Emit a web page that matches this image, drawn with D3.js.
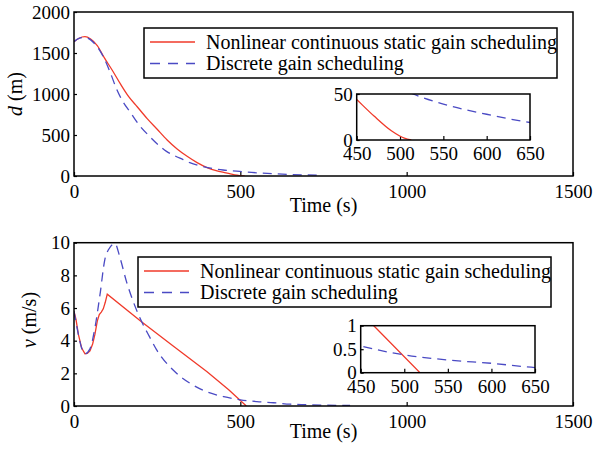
<!DOCTYPE html>
<html>
<head>
<meta charset="utf-8">
<script src="https://cdn.jsdelivr.net/npm/d3@7"></script>
<style>
  body { margin: 0; background: #fff; }
  svg { display: block; font-family: "Liberation Serif", "Times New Roman", serif; }
  .tick line { stroke: #000; stroke-width: 1.2; }
  .tick text { fill: #000; }
</style>
</head>
<body>
<div class="grafico"></div>
<script>
/* Datos */
const legendLabels = ['Nonlinear continuous static gain scheduling', 'Discrete gain scheduling']

// distance d (m)
const topRedT = [0, 15, 33, 50, 70, 90, 115, 140, 165, 190, 220, 250, 280, 310, 340, 370, 400, 430, 450, 470, 490, 505, 513]
const topRedD = [1638, 1680, 1699, 1670, 1590, 1450, 1290, 1120, 965, 845, 700, 570, 440, 330, 240, 163, 102, 62, 44, 26, 10, 2, 0]
const topBlueT = [0, 15, 33, 50, 68, 88, 108, 128, 148, 168, 198, 228, 248, 278, 298, 328, 348, 378, 398, 448, 498, 515, 550, 600, 650, 700, 730]
const topBlueD = [1638, 1678, 1690, 1660, 1585, 1455, 1272, 1060, 900, 784, 610, 480, 400, 300, 256, 200, 163, 125, 106, 73, 57, 50, 39, 28, 19, 13, 10]

// speed v (m/s)
const botRedT = [0, 6, 13, 23, 33, 40, 48, 56, 63, 70, 76, 82, 88, 94, 100, 200, 300, 400, 465, 518]
const botRedV = [5.8, 5.3, 4.4, 3.55, 3.2, 3.22, 3.37, 3.8, 4.4, 5.2, 5.6, 5.75, 5.95, 6.35, 6.85, 5.2, 3.64, 2.1, 1.0, 0]
const botBlueT = [0, 13, 23, 33, 48, 63, 78, 93, 103, 123, 138, 158, 178, 198, 228, 248, 298, 348, 398, 450, 500, 550, 600, 650, 700, 760, 830]
const botBlueV = [5.8, 4.4, 3.55, 3.2, 3.5, 4.8, 6.8, 9.0, 9.55, 9.95, 9.1, 7.6, 6.4, 5.4, 4.2, 3.45, 2.2, 1.4, 0.88, 0.57, 0.38, 0.27, 0.2, 0.11, 0.08, 0.05, 0.03]

// ticks
const mainXTicks = [0, 500, 1000, 1500]
const topYTicks = [0, 500, 1000, 1500, 2000]
const botYTicks = [0, 2, 4, 6, 8, 10]
const insetXTicks = [450, 500, 550, 600, 650]
const topInsetYTicks = [0, 50]
const botInsetYTicks = [0, 0.5, 1]

const w = 597
const h = 450
const red = '#f03a2a'
const blue = '#4a4ac4'
const serif = '"Liberation Serif", "Times New Roman", serif'

const svg = d3.select('.grafico')
  .append('svg')
  .attr('width', w)
  .attr('height', h)
  .attr('font-family', serif)

/* Dibuja un marco de ejes con sus curvas */
const panel = (opt) => {
  const xScale = d3.scaleLinear().domain(opt.xDomain).range([opt.x0, opt.x1])
  const yScale = d3.scaleLinear().domain(opt.yDomain).range([opt.y1, opt.y0])
  const g = svg.append('g').attr('class', opt.id)

  const clipId = 'clip-' + opt.id
  g.append('clipPath').attr('id', clipId)
    .append('rect')
    .attr('x', opt.x0).attr('y', opt.y0)
    .attr('width', opt.x1 - opt.x0).attr('height', opt.y1 - opt.y0)

  if (opt.inset) {
    g.append('rect')
      .attr('x', opt.x0).attr('y', opt.y0)
      .attr('width', opt.x1 - opt.x0).attr('height', opt.y1 - opt.y0)
      .attr('fill', '#fff')
  }

  const xAxis = d3.axisBottom(xScale)
    .tickValues(opt.xTicks)
    .tickSizeInner(-4)
    .tickSizeOuter(0)
    .tickPadding(opt.xPad)
    .tickFormat(d3.format('d'))

  const yAxis = d3.axisLeft(yScale)
    .tickValues(opt.yTicks)
    .tickSizeInner(-3)
    .tickSizeOuter(0)
    .tickPadding(4)
    .tickFormat(d => String(d))

  g.append('g')
    .attr('transform', `translate(0,${opt.y1})`)
    .call(xAxis)
    .attr('font-family', serif)
    .attr('font-size', 19)
    .call(a => a.select('.domain').remove())

  g.append('g')
    .attr('transform', `translate(${opt.x0},0)`)
    .call(yAxis)
    .attr('font-family', serif)
    .attr('font-size', 19)
    .call(a => a.select('.domain').remove())

  const series = [
    { t: opt.redT, v: opt.redV, color: red, dash: null, curve: opt.redCurve },
    { t: opt.blueT, v: opt.blueV, color: blue, dash: '9,6', curve: d3.curveMonotoneX }
  ]

  series.forEach(s => {
    const line = d3.line()
      .x(d => xScale(d[0]))
      .y(d => yScale(d[1]))
      .curve(s.curve)
    g.append('path')
      .datum(d3.zip(s.t, s.v))
      .attr('clip-path', `url(#${clipId})`)
      .attr('d', line)
      .attr('fill', 'none')
      .attr('stroke', s.color)
      .attr('stroke-width', 1.3)
      .attr('stroke-dasharray', s.dash)
  })

  g.append('rect')
    .attr('x', opt.x0).attr('y', opt.y0)
    .attr('width', opt.x1 - opt.x0).attr('height', opt.y1 - opt.y0)
    .attr('fill', 'none')
    .attr('stroke', '#000')
    .attr('stroke-width', 1.5)
}

/* Leyenda */
const legend = (x, y) => {
  const g = svg.append('g').attr('class', 'legend')
  g.append('rect')
    .attr('x', x).attr('y', y)
    .attr('width', 413).attr('height', 50)
    .attr('fill', '#fff')
    .attr('stroke', '#000')
    .attr('stroke-width', 1.5)
  legendLabels.forEach((label, i) => {
    const yy = y + 20.5 + i * 21.5
    g.append('line')
      .attr('x1', x + 6).attr('x2', x + 51)
      .attr('y1', yy - 6.5).attr('y2', yy - 6.5)
      .attr('stroke', i === 0 ? red : blue)
      .attr('stroke-width', 1.3)
      .attr('stroke-dasharray', i === 0 ? null : '10,8')
    g.append('text')
      .attr('x', x + 62).attr('y', yy)
      .style('font-size', '20px')
      .text(label)
  })
}

const axisLabel = (x, y, rot) => svg.append('text')
  .attr('text-anchor', 'middle')
  .attr('transform', `translate(${x},${y})` + (rot ? ' rotate(-90)' : ''))
  .style('font-size', '20px')

/* Grafico superior: d */
panel({
  id: 'top', x0: 74, x1: 573, y0: 12, y1: 176,
  xDomain: [0, 1500], yDomain: [0, 2000],
  xTicks: mainXTicks, yTicks: topYTicks, xPad: 9,
  redT: topRedT, redV: topRedD, blueT: topBlueT, blueV: topBlueD,
  redCurve: d3.curveMonotoneX
})
legend(144, 28)
panel({
  id: 'topInset', inset: true, x0: 356.7, x1: 530, y0: 94, y1: 140,
  xDomain: [450, 650], yDomain: [0, 50],
  xTicks: insetXTicks, yTicks: topInsetYTicks, xPad: 7,
  redT: topRedT, redV: topRedD, blueT: topBlueT, blueV: topBlueD,
  redCurve: d3.curveMonotoneX
})

/* Grafico inferior: v */
panel({
  id: 'bot', x0: 74, x1: 573, y0: 242.7, y1: 406,
  xDomain: [0, 1500], yDomain: [0, 10],
  xTicks: mainXTicks, yTicks: botYTicks, xPad: 9,
  redT: botRedT, redV: botRedV, blueT: botBlueT, blueV: botBlueV,
  redCurve: d3.curveLinear
})
legend(138, 257)
panel({
  id: 'botInset', inset: true, x0: 360.7, x1: 535, y0: 325.7, y1: 372.7,
  xDomain: [450, 650], yDomain: [0, 1],
  xTicks: insetXTicks, yTicks: botInsetYTicks, xPad: 7,
  redT: botRedT, redV: botRedV, blueT: botBlueT, blueV: botBlueV,
  redCurve: d3.curveLinear
})

/* Titulos de ejes */
axisLabel(323.5, 212, false).text('Time (s)')
axisLabel(323.5, 438, false).text('Time (s)')

const dLab = axisLabel(22, 94, true)
dLab.append('tspan').style('font-style', 'italic').text('d')
dLab.append('tspan').text(' (m)')

const vLab = axisLabel(36, 320, true)
vLab.append('tspan').style('font-style', 'italic').text('v')
vLab.append('tspan').text(' (m/s)')
</script>
</body>
</html>
